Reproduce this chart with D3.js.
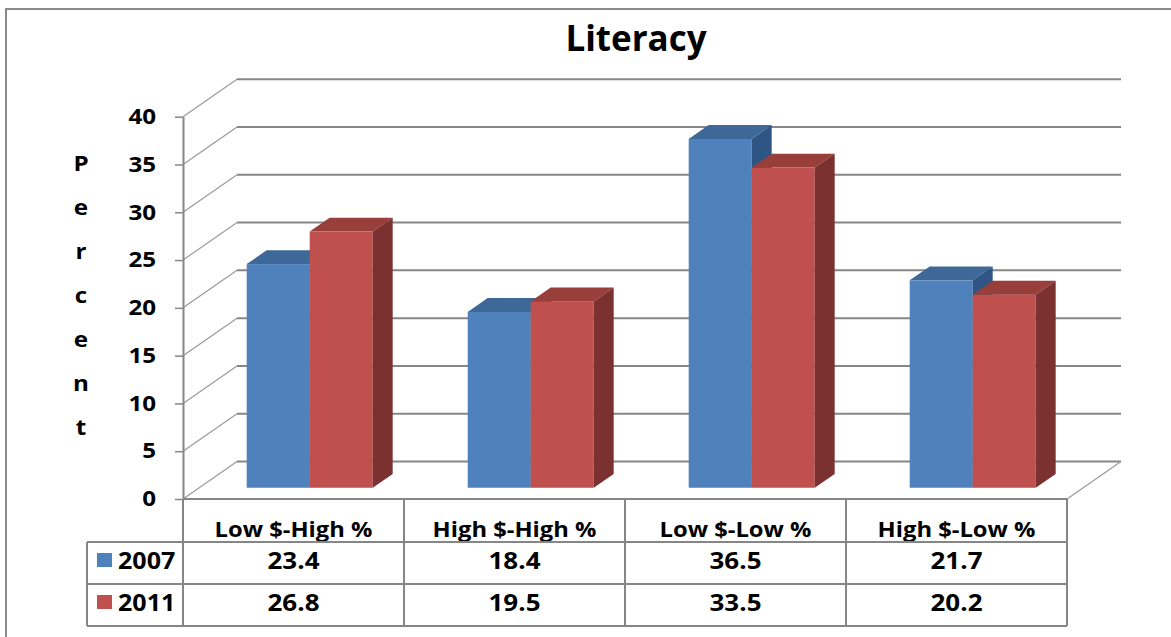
<!DOCTYPE html>
<html>
<head>
<meta charset="utf-8">
<script src="https://cdn.jsdelivr.net/npm/d3@7/dist/d3.min.js"></script>
<style>
  html, body { margin: 0; padding: 0; background: #fff; }
  svg { display: block; }
  text { font-family: "Open Sans", Lato, "DejaVu Sans", sans-serif; fill: #000; font-weight: bold; }
</style>
</head>
<body>
<svg id="chart" width="1171" height="637"></svg>
<script>
// ---- data ----
const chartTitle = "Literacy";
const axisTitle = "Percent";
const categories = ["Low $-High %", "High $-High %", "Low $-Low %", "High $-Low %"];
const seriesNames = ["2007", "2011"];
const values2007 = [23.4, 18.4, 36.5, 21.7];
const values2011 = [26.8, 19.5, 33.5, 20.2];
const yTicks = [0, 5, 10, 15, 20, 25, 30, 35, 40];

const seriesValues = [values2007, values2011];
const palette = {
  "2007": { front: "#4F81BD", top: "#3D6897", side: "#2F5585" },
  "2011": { front: "#C0504D", top: "#983E3B", side: "#7B3130" }
};

// ---- layout ----
const svg = d3.select("#chart");
const plotLeft = 183, plotRight = 1067;
const floorY = 499, topY = 116.7;
const depthX = 54, depthY = -37.5;      // offset of the back wall
const barFront = 0.3, barBack = 0.67;   // bar depth, as a share of the full depth
const tableTop = 542, rowH = 42, tableLeft = 87;
const gridColor = "#868686";

const y = d3.scaleLinear().domain([0, 40]).range([floorY, topY]);
const x = d3.scaleBand().domain(categories).range([plotLeft, plotRight]);
const groupW = 126;
const x1 = d3.scaleBand().domain(seriesNames).range([0, groupW]);

const off = t => [depthX * t, depthY * t];

// text drawn with a slight horizontal widening
function label(parent, px, py, txt, size, sx, anchor) {
  return parent.append("text")
    .attr("transform", `translate(${px},${py}) scale(${sx},1)`)
    .attr("text-anchor", anchor || "middle")
    .attr("font-size", size)
    .text(txt);
}

// chart frame
svg.append("path")
  .attr("d", `M6,637 V9 H1171`)
  .attr("fill", "none").attr("stroke", "#8a8a8a").attr("stroke-width", 2);

// title
label(svg, 636, 51, chartTitle, 35, 1.0);

// ---- walls ----
const walls = svg.append("g");
const [bx, by] = off(1);
// back wall gridlines
walls.selectAll("line.back").data(yTicks).join("line")
  .attr("class", "back")
  .attr("x1", plotLeft + bx).attr("x2", plotRight + bx)
  .attr("y1", d => y(d) + by).attr("y2", d => y(d) + by)
  .attr("stroke", gridColor).attr("stroke-width", 2);
// side wall diagonals
walls.selectAll("line.side").data(yTicks).join("line")
  .attr("class", "side")
  .attr("x1", plotLeft).attr("x2", plotLeft + bx)
  .attr("y1", d => y(d)).attr("y2", d => y(d) + by)
  .attr("stroke", "#9a9a9a").attr("stroke-width", 1.2);
// floor right edge
walls.append("line")
  .attr("x1", plotRight).attr("y1", y(0))
  .attr("x2", plotRight + bx).attr("y2", y(0) + by)
  .attr("stroke", "#9a9a9a").attr("stroke-width", 1.2);

// ---- bars ----
const [fx, fy] = off(barFront);
const [kx, ky] = off(barBack);
const bars = svg.append("g");
categories.forEach((cat, ci) => {
  const gx = x(cat) + (x.bandwidth() - groupW) / 2;
  seriesNames.forEach((s, si) => {
    const v = seriesValues[si][ci];
    const x0 = gx + x1(s), w = x1.bandwidth();
    const yv = y(v), y0 = y(0);
    const c = palette[s];
    const g = bars.append("g");
    g.append("rect")
      .attr("x", x0 + fx).attr("y", yv + fy)
      .attr("width", w).attr("height", y0 - yv)
      .attr("fill", c.front);
    g.append("path")
      .attr("d", `M${x0 + fx},${yv + fy} L${x0 + w + fx},${yv + fy} L${x0 + w + kx},${yv + ky} L${x0 + kx},${yv + ky} Z`)
      .attr("fill", c.top);
    g.append("path")
      .attr("d", `M${x0 + w + fx},${yv + fy} L${x0 + w + kx},${yv + ky} L${x0 + w + kx},${y0 + ky} L${x0 + w + fx},${y0 + fy} Z`)
      .attr("fill", c.side);
  });
});

// ---- value axis ----
const tickSx = 1.15;
const axis = svg.append("g")
  .attr("transform", `translate(${plotLeft},0)`)
  .call(d3.axisLeft(y).tickValues(yTicks).tickSize(8).tickPadding(19).tickSizeOuter(0));
axis.select(".domain").attr("stroke", gridColor).attr("stroke-width", 2);
axis.selectAll(".tick line").attr("stroke", gridColor).attr("stroke-width", 1.5);
axis.selectAll(".tick text")
  .attr("font-size", 21).attr("font-weight", "bold")
  .attr("font-family", "'Open Sans', Lato, sans-serif").attr("fill", "#000")
  .attr("x", -27 / tickSx)
  .attr("transform", `scale(${tickSx},1)`);

// stacked axis title
const titleG = svg.append("g");
axisTitle.split("").forEach((ch, i) => label(titleG, 81, 171 + i * 44, ch, 22, 1.1));

// ---- data table ----
const table = svg.append("g");
// category header labels
categories.forEach(c => label(table, x(c) + x.bandwidth() / 2, 537, c, 22, 1.08));
// table body cover (clips header descenders)
table.append("rect")
  .attr("x", tableLeft).attr("y", tableTop)
  .attr("width", plotRight - tableLeft).attr("height", rowH * 2)
  .attr("fill", "#fff");
// value rows
seriesNames.forEach((s, si) => {
  const rowY = tableTop + si * rowH;
  table.append("rect")
    .attr("x", 97).attr("y", rowY + 11).attr("width", 15).attr("height", 14)
    .attr("fill", palette[s].front);
  label(table, 118, rowY + 27, s, 23, 1.09, "start");
  seriesValues[si].forEach((v, i) =>
    label(table, x(categories[i]) + x.bandwidth() / 2, rowY + 27, v.toFixed(1), 23, 1.13));
});
// table grid
const lineAttr = sel => sel.attr("stroke", gridColor).attr("stroke-width", 2);
lineAttr(table.append("line").attr("x1", plotLeft).attr("x2", plotRight).attr("y1", floorY).attr("y2", floorY));
[0, 1, 2].forEach(r => lineAttr(table.append("line")
  .attr("x1", tableLeft).attr("x2", plotRight)
  .attr("y1", tableTop + r * rowH).attr("y2", tableTop + r * rowH)));
lineAttr(table.append("line").attr("x1", tableLeft).attr("x2", tableLeft)
  .attr("y1", tableTop).attr("y2", tableTop + 2 * rowH));
const colEdges = categories.map(c => x(c)).concat([plotRight]);
table.selectAll("line.col").data(colEdges).join("line")
  .attr("class", "col")
  .attr("x1", d => d).attr("x2", d => d)
  .attr("y1", floorY).attr("y2", tableTop + 2 * rowH)
  .call(lineAttr);
</script>
</body>
</html>
